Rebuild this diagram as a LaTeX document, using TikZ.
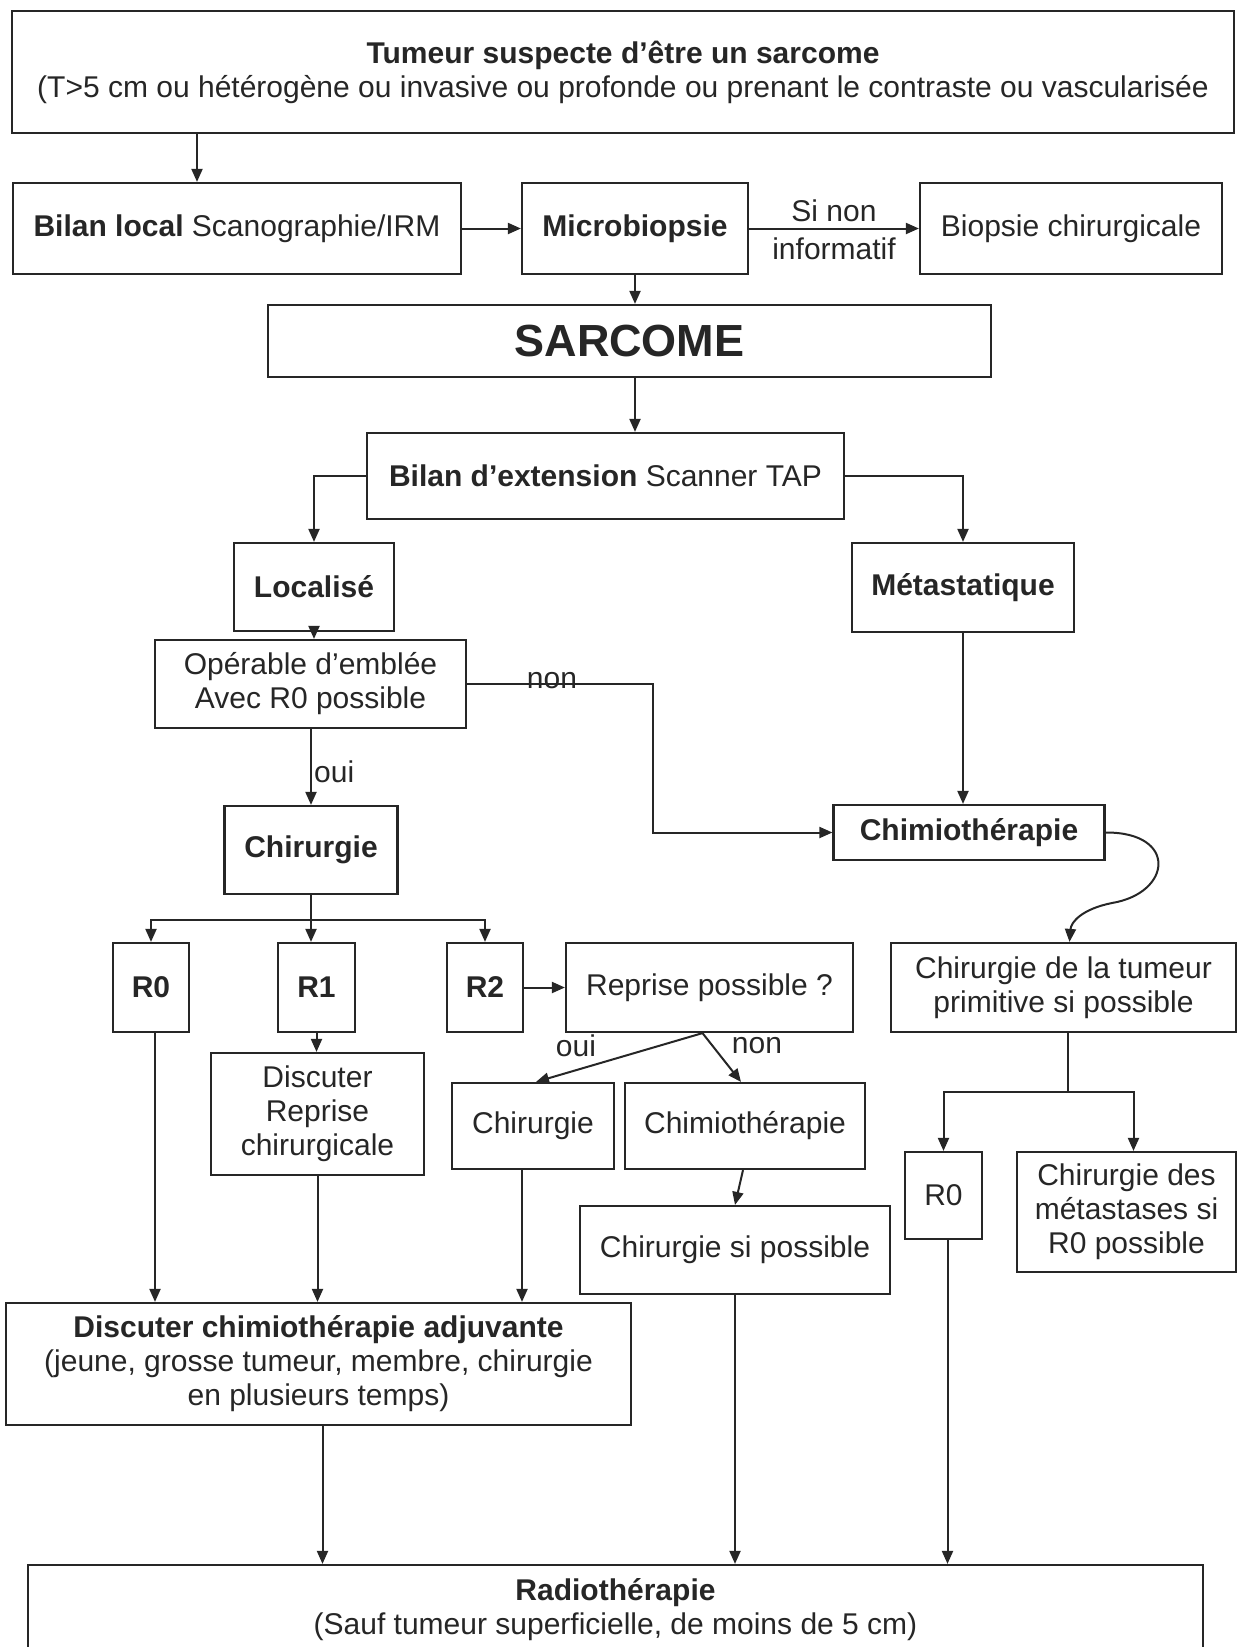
\documentclass[tikz,border=0pt]{standalone}
\usepackage{fontspec}
\setmainfont{Liberation Sans}
\usetikzlibrary{arrows.meta}
\begin{document}
\begin{tikzpicture}[x=1pt,y=-1pt,
  box/.style={draw=black!85, line width=2.2pt, fill=white, inner sep=2pt, align=center,
    font=\fontsize{30}{34}\selectfont, text=black!85},
  arr/.style={draw=black!85, line width=2pt, -{Triangle[length=13pt,width=11pt]}},
  ln/.style={draw=black!85, line width=2pt},
  lbl/.style={font=\fontsize{30}{34}\selectfont, inner sep=0pt, text=black!85}]
\useasboundingbox (0,0) rectangle (1237,1647);
\clip (0,0) rectangle (1237,1647);

% boxes
\node[box, minimum width=1222pt, minimum height=122pt] (top) at (623,72)
  {\textbf{Tumeur suspecte d’être un sarcome}\\(T>5 cm ou hétérogène ou invasive ou profonde ou prenant le contraste ou vascularisée};
\node[box, minimum width=448pt, minimum height=91pt] (bl) at (237,228.5)
  {\textbf{Bilan local} Scanographie/IRM};
\node[box, minimum width=226pt, minimum height=91pt] (micro) at (635,228.5)
  {\textbf{Microbiopsie}};
\node[box, minimum width=302pt, minimum height=91pt] (bio) at (1071,228.5)
  {Biopsie chirurgicale};
\node[box, minimum width=723pt, minimum height=72pt, font=\fontsize{45}{50}\selectfont] (sar) at (629.5,341)
  {\textbf{SARCOME}};
\node[box, minimum width=477pt, minimum height=86pt] (ext) at (605.5,476)
  {\textbf{Bilan d’extension} Scanner TAP};
\node[box, minimum width=160pt, minimum height=88pt] (loc) at (314,587)
  {\textbf{Localisé}};
\node[box, minimum width=222pt, minimum height=89pt] (meta) at (963,587.5)
  {\textbf{Métastatique}};
\node[box, minimum width=311pt, minimum height=88pt] (op) at (310.5,684)
  {Opérable d’emblée\\Avec R0 possible};
\node[box, minimum width=271pt, minimum height=55pt] (chimio) at (969,832.5)
  {\textbf{Chimiothérapie}};
\node[box, minimum width=173pt, minimum height=88pt] (chir) at (311,850)
  {\textbf{Chirurgie}};
\node[box, minimum width=76pt, minimum height=89pt] (rzero) at (151,987.5) {\textbf{R0}};
\node[box, minimum width=77pt, minimum height=89pt] (rone) at (316.5,987.5) {\textbf{R1}};
\node[box, minimum width=76pt, minimum height=89pt] (rtwo) at (485,987.5) {\textbf{R2}};
\node[box, minimum width=287pt, minimum height=89pt] (rep) at (709.5,987.5)
  {Reprise possible ?};
\node[box, minimum width=345pt, minimum height=89pt] (ctum) at (1063.5,987.5)
  {Chirurgie de la tumeur\\primitive si possible};
\node[box, minimum width=213pt, minimum height=122pt] (dr) at (317.5,1114)
  {Discuter\\Reprise\\chirurgicale};
\node[box, minimum width=162pt, minimum height=86pt] (chirb) at (533,1126)
  {Chirurgie};
\node[box, minimum width=240pt, minimum height=86pt] (chimiob) at (745,1126)
  {Chimiothérapie};
\node[box, minimum width=310pt, minimum height=88pt] (csp) at (735,1250)
  {Chirurgie si possible};
\node[box, minimum width=77pt, minimum height=87pt] (rzerob) at (943.5,1195.5) {R0};
\node[box, minimum width=219pt, minimum height=120pt] (cmeta) at (1126.5,1212)
  {Chirurgie des\\métastases si\\R0 possible};
\node[box, minimum width=625pt, minimum height=122pt] (adj) at (318.5,1364)
  {\textbf{Discuter chimiothérapie adjuvante}\\(jeune, grosse tumeur, membre, chirurgie\\en plusieurs temps)};
\node[box, minimum width=1175pt, minimum height=90pt] (radio) at (615.5,1610)
  {\textbf{Radiothérapie}\\(Sauf tumeur superficielle, de moins de 5 cm)};

% helper coordinates
\coordinate (ca) at ([xshift=-40pt]bl.north);
\coordinate (sp) at ([yshift=-25pt]chir.south);
\coordinate (ctb) at ([xshift=4pt]ctum.south);
\coordinate (sptwo) at ([yshift=-59pt]ctb);
\coordinate (cmt) at ([xshift=7pt]cmeta.north);
\coordinate (chb) at ([xshift=-11pt]chirb.south);
\coordinate (ctt) at ([xshift=6pt]ctum.north);
\coordinate (repb) at ([xshift=-7pt]rep.south);

% connectors
\draw[arr] (top.south -| ca) -- (ca);
\draw[arr] (bl.east) -- (micro.west);
\draw[arr] (micro.east) -- (bio.west);
\node[lbl] (sinon) at (834,211) {Si non};
\node[lbl] (inform) at (834,249) {informatif};
\draw[arr] (micro.south) -- (micro.south |- sar.north);
\draw[arr] (micro.south |- sar.south) -- (micro.south |- ext.north);
\draw[arr] (ext.west) -| (loc.north);
\draw[arr] (ext.east) -| (meta.north);
\draw[arr] (loc.south) -- (loc.south |- op.north);
\draw[arr] (op.east) -- ++(186,0) |- (chimio.west);
\node[lbl] (nonA) at (552,681) {non};
\draw[arr] (meta.south) -- (meta.south |- chimio.north);
\draw[arr] (chir.north |- op.south) -- (chir.north);
\node[lbl, anchor=west] (ouiA) at (314,772) {oui};
\draw[ln] (chir.south) -- (sp);
\draw[arr] (sp) -| (rzero.north);
\draw[arr] (sp) -| (rtwo.north);
\draw[arr] (sp) -- (sp |- rone.north);
\draw[arr] (rtwo.east) -- (rep.west);
\draw[arr] (repb) -- ([xshift=3pt]chirb.north);
\draw[arr] (repb) -- ([xshift=-4pt]chimiob.north);
\node[lbl] (ouiB) at (576,1046) {oui};
\node[lbl] (nonB) at (757,1046) {non};
\draw[arr] ([xshift=-2pt]chimiob.south) -- (csp.north);
\draw[arr] (rone.south) -- (rone.south |- dr.north);
\draw[arr] (chimio.east) .. controls (1178,832) and (1172,893) .. (1112,903)
   .. controls (1082,909) and (1071,922) .. (ctt);
\draw[ln] (ctb) -- (sptwo);
\draw[arr] (sptwo) -| (rzerob.north);
\draw[arr] (sptwo) -| (cmt);
\draw[arr] ([xshift=4pt]rzero.south) -- ([xshift=4pt]rzero.south |- adj.north);
\draw[arr] (dr.south) -- (dr.south |- adj.north);
\draw[arr] (chb) -- (chb |- adj.north);
\draw[arr] ([xshift=4pt]adj.south) -- ([xshift=4pt]adj.south |- radio.north);
\draw[arr] (csp.south) -- (csp.south |- radio.north);
\draw[arr] ([xshift=4pt]rzerob.south) -- ([xshift=4pt]rzerob.south |- radio.north);
\end{tikzpicture}
\end{document}
